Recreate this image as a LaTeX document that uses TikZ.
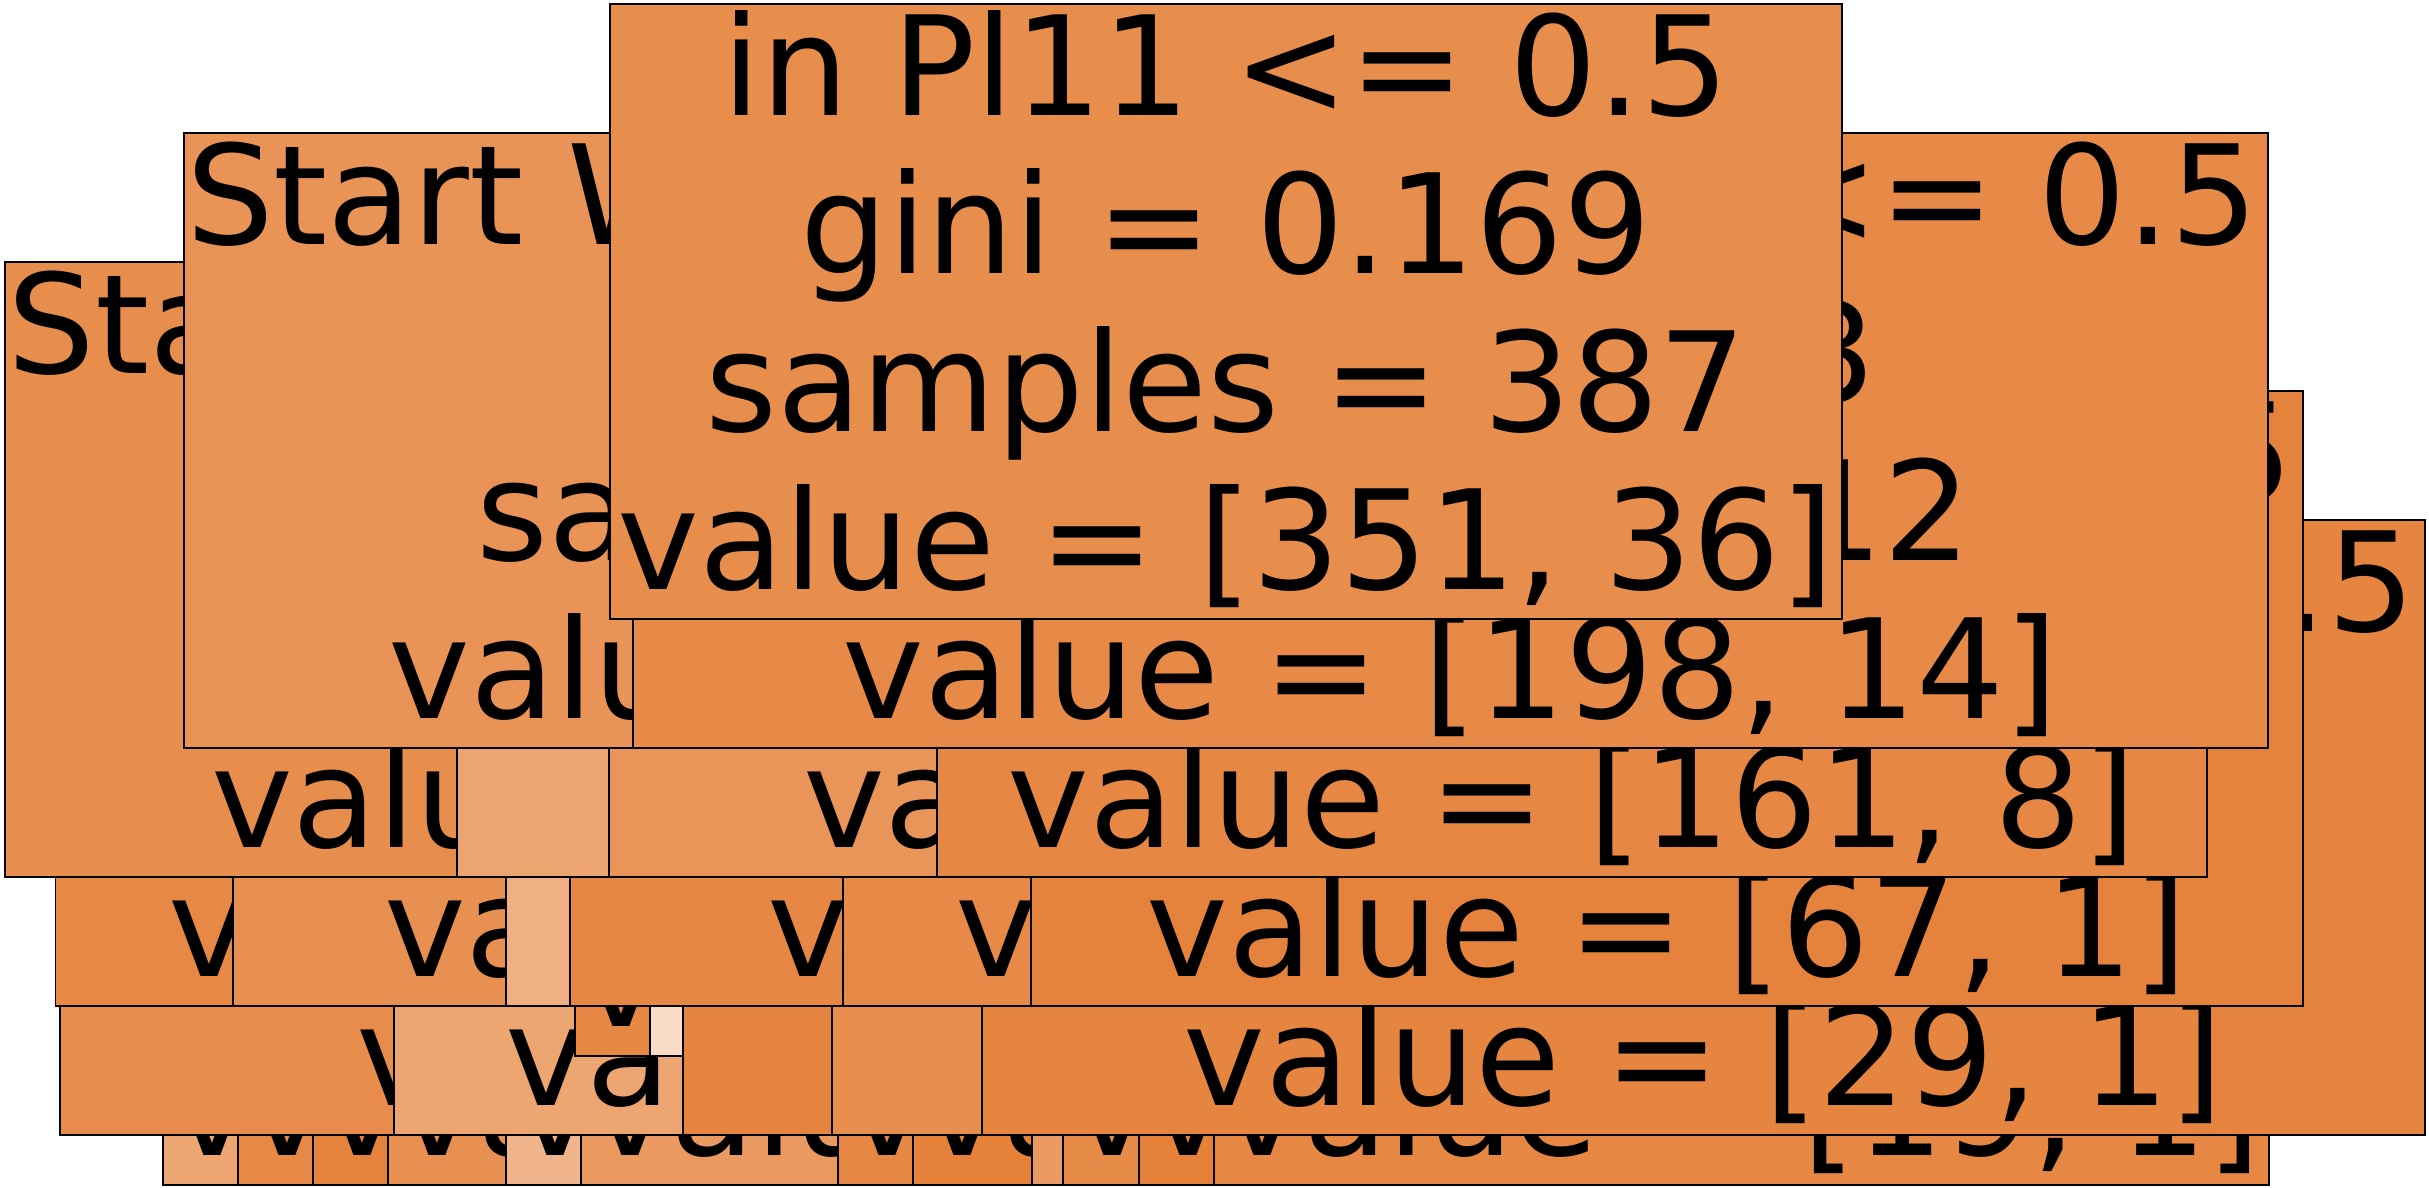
\documentclass[tikz,border=0pt]{standalone}
\usepackage{fontspec}
\setmainfont{DejaVu Sans}
\definecolor{c0}{RGB}{229,129,57}
\tikzset{
  bx/.style={draw=black, line width=0.35pt},
  tx/.style={inner sep=0pt, outer sep=0pt, font=\fontsize{39.3pt}{47pt}\selectfont, text=black},
}
\newcommand{\tbox}[5]{\path[bx, fill=c0!#5!white] (#1,#3) rectangle (#2,#4);}
\begin{document}
\begin{tikzpicture}[x=0.01cm, y=-0.01cm]
\useasboundingbox (0,0) rectangle (2429,1187);
% ---------- depth 5 (leaves) ----------
\tbox{163}{1163}{728}{1185}{71}  \node[tx, anchor=base west] (v51) at (171,1155.5) {value};
\tbox{238}{1238}{728}{1185}{94}  \node[tx, anchor=base west] (v52) at (246,1155.5) {value};
\tbox{313}{1313}{728}{1185}{99}  \node[tx, anchor=base west] (v53) at (321,1155.5) {value};
\tbox{388}{1388}{728}{1185}{88}  \node[tx, anchor=base west] (v54) at (396,1155.5) {value};
\tbox{506}{1506}{728}{1185}{59}  \node[tx, anchor=base west] (v55) at (514,1155.5) {value};
\tbox{581}{1581}{728}{1185}{80}  \node[tx, anchor=base west] (v56) at (589,1155.5) {value};
\tbox{838}{1838}{728}{1185}{95}  \node[tx, anchor=base west] (v57) at (846,1155.5) {value};
\tbox{913}{1913}{728}{1185}{100} \node[tx, anchor=base west] (v58) at (921,1155.5) {value};
\tbox{1032}{2032}{728}{1185}{80} \node[tx, anchor=base west] (v59) at (1040,1155.5) {value};
\tbox{1063}{2063}{728}{1185}{92} \node[tx, anchor=base west] (v5a) at (1071,1155.5) {value};
\tbox{1139}{2139}{728}{1185}{100} \node[tx, anchor=base west] (v5b) at (1147,1155.5) {value};
\tbox{1214}{2269}{728}{1185}{94.7}
\node[tx, anchor=base] (g5c) at (1741.5,839.5) {gini = 0.095};
\node[tx, anchor=base] (s5c) at (1741.5,997.5) {samples = 20};
\node[tx, anchor=base] (v5c) at (1741.5,1155.5) {value = [19, 1]};
% ---------- depth 4 ----------
\tbox{60}{1200}{520}{1135}{91}   \node[tx, anchor=base west] (v4a) at (356,1105.5) {value};
\tbox{394}{1500}{520}{1135}{71}  \node[tx, anchor=base west] (v4b) at (505,1105.5) {value};
\tbox{575}{1600}{599}{1056}{95}  \node[tx, anchor=base west] (v4c) at (580,1026.5) {value};
\tbox{650}{1700}{599}{1056}{28}
\tbox{683}{1900}{520}{1135}{97}
\tbox{832}{2000}{520}{1135}{90}
\tbox{982}{2425}{520}{1135}{96.5}
\node[tx, anchor=base east] (f4g) at (2415.5,631.5) {<= 0.5};
\node[tx, anchor=base] (g4g) at (1703.5,789.5) {gini = 0.064};
\node[tx, anchor=base] (s4g) at (1703.5,947.5) {samples = 30};
\node[tx, anchor=base] (v4g) at (1703.5,1105.5) {value = [29, 1]};
% ---------- depth 3 ----------
\tbox{55.5}{1100}{391}{1006}{94} \node[tx, anchor=base west] (v3a) at (168,976.5) {value};
\tbox{233}{1300}{391}{1006}{88}  \node[tx, anchor=base west] (v3b) at (384,976.5) {value};
\tbox{506}{1800}{391}{1006}{62}
\tbox{570}{1900}{391}{1006}{95}  \node[tx, anchor=base west] (v3d) at (767,976.5) {value};
\tbox{843}{2116}{391}{1006}{92.5} \node[tx, anchor=base west] (v3e) at (955,976.5) {value = [94, 7]};
\tbox{1031}{2303}{391}{1006}{98.5}
\node[tx, anchor=base east] (f3f) at (2293.5,502.5) {<= 0.5};
\node[tx, anchor=base] (g3f) at (1667,660.5) {gini = 0.029};
\node[tx, anchor=base] (s3f) at (1667,818.5) {samples = 68};
\node[tx, anchor=base] (v3f) at (1667,976.5) {value = [67, 1]};
% ---------- depth 2 ----------
\tbox{5}{1543}{262}{877}{90}
\node[tx, anchor=base west] (f2a) at (8,373.5) {Start};
\node[tx, anchor=base west] (v2a) at (211,847.5) {value};
\tbox{457}{1983}{262}{877}{72}
\tbox{609}{2036}{262}{877}{83.8}
\node[tx, anchor=base west] (v2c) at (803,847.5) {value = [37, 6]};
\tbox{937}{2207}{262}{877}{95}
\node[tx, anchor=base] (g2d) at (1572,531.5) {gini = 0.09};
\node[tx, anchor=base] (s2d) at (1572,689.5) {samples = 169};
\node[tx, anchor=base] (v2d) at (1572,847.5) {value = [161, 8]};
% ---------- depth 1 ----------
\tbox{184}{1810}{133}{748}{85.6}
\node[tx, anchor=base west] (f1a) at (186,244.5) {Start W};
\node[tx, anchor=base] (g1a) at (997,402.5) {gini = 0.22};
\node[tx, anchor=base] (s1a) at (997,560.5) {samples = 175};
\node[tx, anchor=base] (v1a) at (997,718.5) {value = [153, 22]};
\tbox{633}{2268}{133}{748}{92.9}
\node[tx, anchor=base east] (f1b) at (2258.5,244.5) {<= 0.5};
\node[tx, anchor=base] (g1b) at (1450.5,402.5) {gini = 0.123};
\node[tx, anchor=base] (s1b) at (1450.5,560.5) {samples = 212};
\node[tx, anchor=base] (v1b) at (1450.5,718.5) {value = [198, 14]};
% ---------- depth 0 ----------
\tbox{610}{1842}{4}{619}{89.7}
\node[tx, anchor=base] (f0) at (1226,115.5) {in Pl11 <= 0.5};
\node[tx, anchor=base] (g0) at (1226,273.5) {gini = 0.169};
\node[tx, anchor=base] (s0) at (1226,431.5) {samples = 387};
\node[tx, anchor=base] (v0) at (1226,589.5) {value = [351, 36]};
\end{tikzpicture}
\end{document}
